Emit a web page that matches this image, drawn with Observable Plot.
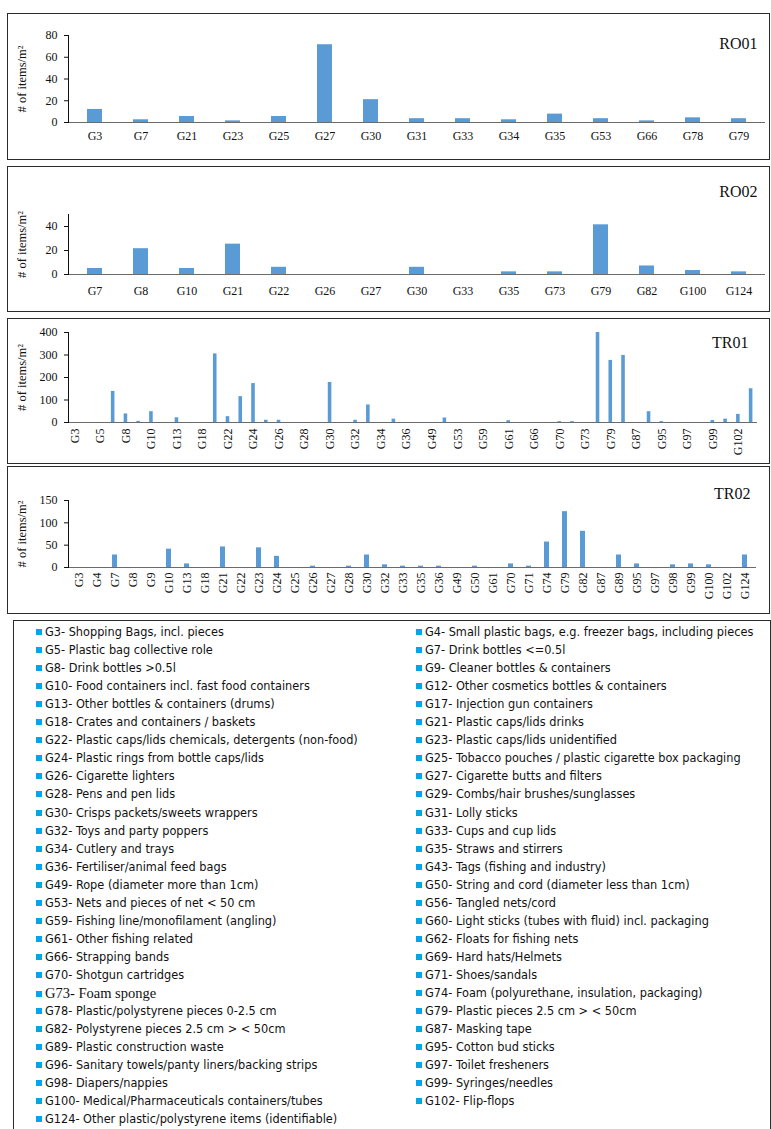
<!DOCTYPE html>
<html><head><meta charset="utf-8">
<script src="https://cdn.jsdelivr.net/npm/d3@7"></script>
<script src="https://cdn.jsdelivr.net/npm/@observablehq/plot@0.6"></script>
<style>
html,body{margin:0;padding:0;background:#fff;}
body{width:771px;height:1129px;overflow:hidden;position:relative;font-family:"Liberation Serif","Times New Roman",serif;}
.panel{position:absolute;left:7px;width:763px;border:1px solid #2b2b2b;box-sizing:border-box;background:#fff;}
.panel svg{display:block;}
#legend{position:absolute;left:13px;top:620px;width:758px;height:530px;border:1px solid #2b2b2b;box-sizing:border-box;background:#fff;font-family:"Liberation Sans Narrow","Arial Narrow","DejaVu Sans Condensed",sans-serif;color:#111;}
.item{position:absolute;white-space:nowrap;font-size:12.6px;line-height:18px;height:18px;}
.sw{display:inline-block;width:6px;height:6px;background:#00a6e8;margin-right:3px;vertical-align:1px;}
.serifItem{font-family:"Liberation Serif",serif;font-size:14.5px;}
</style>
</head><body>
<div id="p1" class="panel" style="top:13px;height:147px"></div>
<div id="p2" class="panel" style="top:166px;height:146px"></div>
<div id="p3" class="panel" style="top:318px;height:146px"></div>
<div id="p4" class="panel" style="top:466px;height:148px"></div>
<div id="legend"></div>
<script>
// ---------- data ----------
const yLabel = "# of items/m²";

const ro01Cats = ["G3","G7","G21","G23","G25","G27","G30","G31","G33","G34","G35","G53","G66","G78","G79"];
const ro01Vals = [12,2.5,5.5,1.5,5.5,71.5,21,3.5,3.5,2.5,7.7,3.5,1.5,4.3,3.5];

const ro02Cats = ["G7","G8","G10","G21","G22","G26","G27","G30","G33","G35","G73","G79","G82","G100","G124"];
const ro02Vals = [5,21.5,5,25.3,6,0,0,6,0,2.2,2.2,41.4,7.1,3.3,2.2];

const tr01Cats = ["G3","G4","G5","G7","G8","G9","G10","G12","G13","G17","G18","G21","G22","G23","G24","G25","G26","G27","G28","G29","G30","G31","G32","G33","G34","G35","G36","G43","G49","G50","G53","G56","G59","G60","G61","G62","G66","G69","G70","G71","G73","G78","G79","G82","G87","G89","G95","G96","G97","G98","G99","G100","G102","G124"];
const tr01Vals = [0,0,0,138,38,5,48,0,21,0,0,305,26,115,173,10,10,0,0,0,178,0,10,78,0,15,0,0,0,20,0,0,0,0,8,0,0,0,4,4,0,400,276,298,0,48,4,0,0,0,9,15,36,150];

const tr02Cats = ["G3","G4","G7","G8","G9","G10","G13","G18","G21","G22","G23","G24","G25","G26","G27","G28","G30","G32","G33","G35","G36","G49","G50","G61","G70","G71","G74","G79","G82","G87","G89","G95","G97","G98","G99","G100","G102","G124"];
const tr02Vals = [0,0,28,0,0,41,8,0,46,0,44,25,0,3,0,3,28,6,3,3,3,0,3,0,8,3,57,125,81,0,28,8,0,6,8,6,0,28];

const legendLeft = ["G3- Shopping Bags, incl. pieces","G5- Plastic bag collective role","G8- Drink bottles >0.5l","G10- Food containers incl. fast food containers","G13- Other bottles & containers (drums)","G18- Crates and containers / baskets","G22- Plastic caps/lids chemicals, detergents (non-food)","G24- Plastic rings from bottle caps/lids","G26- Cigarette lighters","G28- Pens and pen lids","G30- Crisps packets/sweets wrappers","G32- Toys and party poppers","G34- Cutlery and trays","G36- Fertiliser/animal feed bags","G49- Rope (diameter more than 1cm)","G53- Nets and pieces of net < 50 cm","G59- Fishing line/monofilament (angling)","G61- Other fishing related","G66- Strapping bands","G70- Shotgun cartridges","G73- Foam sponge","G78- Plastic/polystyrene pieces 0-2.5 cm","G82- Polystyrene pieces 2.5 cm > < 50cm","G89- Plastic construction waste","G96- Sanitary towels/panty liners/backing strips","G98- Diapers/nappies","G100- Medical/Pharmaceuticals containers/tubes","G124- Other plastic/polystyrene items (identifiable)"];
const legendRight = ["G4- Small plastic bags, e.g. freezer bags, including pieces","G7- Drink bottles <=0.5l","G9- Cleaner bottles & containers","G12- Other cosmetics bottles & containers","G17- Injection gun containers","G21- Plastic caps/lids drinks","G23- Plastic caps/lids unidentified","G25- Tobacco pouches / plastic cigarette box packaging","G27- Cigarette butts and filters","G29- Combs/hair brushes/sunglasses","G31- Lolly sticks","G33- Cups and cup lids","G35- Straws and stirrers","G43- Tags (fishing and industry)","G50- String and cord (diameter less than 1cm)","G56- Tangled nets/cord","G60- Light sticks (tubes with fluid) incl. packaging","G62- Floats for fishing nets","G69- Hard hats/Helmets","G71- Shoes/sandals","G74- Foam (polyurethane, insulation, packaging)","G79- Plastic pieces 2.5 cm > < 50cm","G87- Masking tape","G95- Cotton bud sticks","G97- Toilet fresheners","G99- Syringes/needles","G102- Flip-flops"];

// ---------- chart builder ----------
function panel(el, cats, vals, o) {
  const data = cats.map((c, i) => ({cat: c, val: vals[i]}));
  const shown = o.every ? new Set(cats.filter((d, i) => i % o.every === 0)) : null;
  const chart = Plot.plot({
    width: 761, height: o.height,
    marginLeft: 60, marginRight: o.mr, marginTop: o.mt, marginBottom: o.mb,
    style: {fontFamily: "'Liberation Serif','Times New Roman',serif", fontSize: "12px", color: "#111", background: "#fff", overflow: "visible"},
    x: {domain: cats, paddingInner: o.pad, paddingOuter: o.pad / 2, label: null, tickSize: 0,
        tickPadding: o.tp, tickRotate: o.rotate || 0,
        tickFormat: shown ? (d => shown.has(d) ? d : "") : (d => d),
        fontSize: o.xfs},
    y: {domain: o.yDomain, ticks: o.yTicks, label: null, tickSize: 4, tickPadding: 7},
    marks: [
      Plot.barY(data, {x: "cat", y: "val", fill: "#5b9bd5"}),
      Plot.ruleY([0], {stroke: "#6b6b6b", strokeWidth: 1.2}),
      Plot.frame({anchor: "left", stroke: "#111"}),
      Plot.text([yLabel], {frameAnchor: "left", dx: -47, rotate: -90, textAnchor: "middle", fontSize: 12.5}),
      Plot.text([o.title], {frameAnchor: "top-right", dx: o.tdx, dy: o.tdy, textAnchor: "end", lineAnchor: "middle", fontSize: 16})
    ]
  });
  document.getElementById(el).appendChild(chart);
}

panel("p1", ro01Cats, ro01Vals, {height: 145, mt: 21, mb: 37, mr: 4, pad: 0.68, tp: 9, xfs: 12,
  yDomain: [0, 80], yTicks: [0, 20, 40, 60, 80], title: "RO01", tdx: -8, tdy: 8});
panel("p2", ro02Cats, ro02Vals, {height: 144, mt: 47, mb: 37, mr: 4, pad: 0.68, tp: 12, xfs: 12,
  yDomain: [0, 50], yTicks: [0, 20, 40], title: "RO02", tdx: -8, tdy: -23});
panel("p3", tr01Cats, tr01Vals, {height: 144, mt: 13, mb: 41, mr: 12, pad: 0.72, tp: 6, xfs: 11.5, rotate: -90, every: 2,
  yDomain: [0, 400], yTicks: [0, 100, 200, 300, 400], title: "TR01", tdx: -9, tdy: 10});
panel("p4", tr02Cats, tr02Vals, {height: 146, mt: 33, mb: 46, mr: 13, pad: 0.7, tp: 5, xfs: 11.5, rotate: -90,
  yDomain: [0, 150], yTicks: [0, 50, 100, 150], title: "TR02", tdx: -6, tdy: -7});

// ---------- legend ----------
const leg = document.getElementById("legend");
const serifCodes = new Set(["G73"]);
function addItem(text, col, row) {
  const d = document.createElement("div");
  d.className = "item" + (serifCodes.has(text.split("-")[0]) ? " serifItem" : "");
  d.style.left = (col === 0 ? 22 : 402) + "px";
  d.style.top = (2 + row * 18.05) + "px";
  const s = document.createElement("span"); s.className = "sw";
  d.appendChild(s);
  d.appendChild(document.createTextNode(text));
  leg.appendChild(d);
}
legendLeft.forEach((t, i) => addItem(t, 0, i));
legendRight.forEach((t, i) => addItem(t, 1, i));
</script>
</body></html>
